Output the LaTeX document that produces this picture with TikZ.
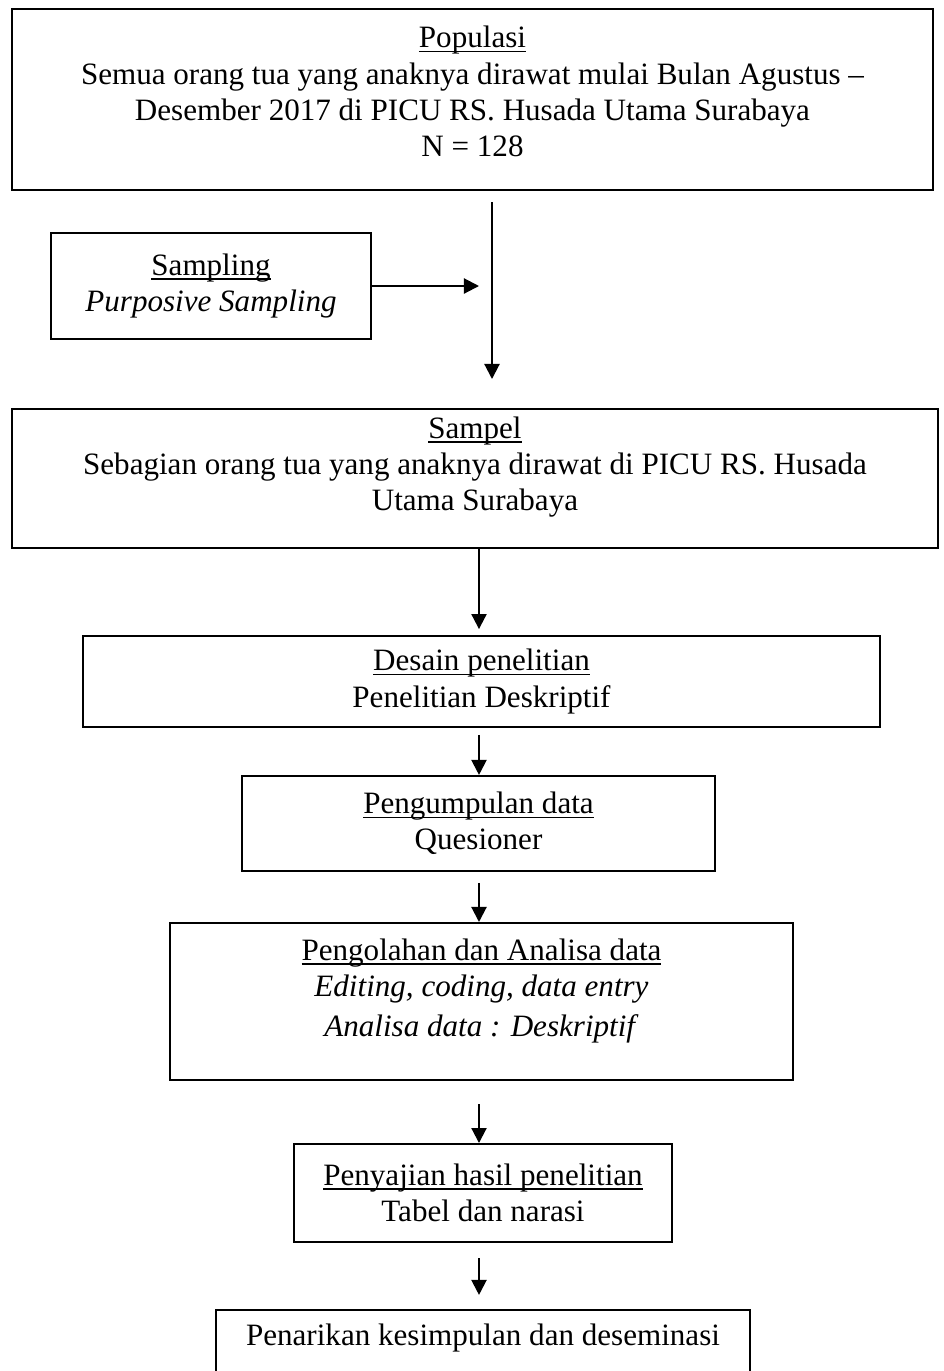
\documentclass[tikz,border=0pt]{standalone}
\usepackage{fontspec}
\setmainfont{Liberation Serif}
\usepackage{tikz}
\usetikzlibrary{arrows.meta}
\def\hd#1{\setbox0\hbox{#1}\leavevmode\rlap{\rule[-1.7pt]{\wd0}{0.55pt}}\box0}
\tikzstyle{box}=[draw,line width=0.8pt,align=center,inner sep=0pt,font=\fontsize{12pt}{14pt}\selectfont]
\tikzstyle{arr}=[line width=0.8pt,-{Triangle[length=5.8pt,width=5.8pt]}]

\begin{document}
\begin{tikzpicture}[x=0.3861pt,y=-0.3861pt]
    \useasboundingbox (0,0) rectangle (943,1371);
    \node[box,minimum width=355.6pt,minimum height=69.9pt,text depth=6.2pt] (pop) at (472.5,99.5)
    {\hd{Populasi}\\Semua orang tua yang anaknya dirawat mulai Bulan Agustus --\\Desember 2017 di PICU RS. Husada Utama Surabaya\\N = 128};
    \node[box,minimum width=123.6pt,minimum height=40.9pt] (smp) at (211,286)
    {\hd{Sampling}\\\textit{Purposive Sampling}};
    \node[box,minimum width=357.5pt,minimum height=53.7pt,text depth=11.5pt] (sampel) at (475,478.5)
    {\hd{Sampel}\\Sebagian orang tua yang anaknya dirawat di PICU RS. Husada\\Utama Surabaya};
    \node[box,minimum width=307.7pt,minimum height=35.1pt] (desain) at (481.5,681.5)
    {\hd{Desain penelitian}\\Penelitian Deskriptif};
    \node[box,minimum width=182.6pt,minimum height=36.7pt] (kumpul) at (478.5,823.5)
    {\hd{Pengumpulan data}\\Quesioner};
    \node[box,minimum width=240.5pt,minimum height=60.6pt,text depth=10.6pt] (olah) at (481.5,1001.5)
    {\hd{Pengolahan dan Analisa data}\\\textit{Editing, coding, data entry}\\[1.5pt]\textit{Analisa data : Deskriptif}};
    \node[box,minimum width=145.9pt,minimum height=37.8pt] (saji) at (483,1193)
    {\hd{Penyajian hasil penelitian}\\Tabel dan narasi};
    \node[box,minimum width=206.2pt,minimum height=42.5pt,text depth=23.4pt] (tarik) at (483,1365)
    {Penarikan kesimpulan dan deseminasi};
    \coordinate (col) at (479,0);
    \coordinate (top) at (492,202);
    \coordinate (bot) at (492,379);
    \coordinate (hit) at (479,286);
    \draw[arr] (top) -- (bot);
    \draw[arr] (smp.east) -- (hit);
    \draw[arr,shorten >=2.3pt] (sampel.south -| col) -- (desain.north -| col);
    \draw[arr,shorten <=2.7pt] (desain.south -| col) -- (kumpul.north -| col);
    \draw[arr,shorten <=4.2pt] (kumpul.south -| col) -- (olah.north -| col);
    \draw[arr,shorten <=8.9pt] (olah.south -| col) -- (saji.north -| col);
    \draw[arr,shorten <=5.8pt,shorten >=5.4pt] (saji.south -| col) -- (tarik.north -| col);
\end{tikzpicture}
\end{document}
